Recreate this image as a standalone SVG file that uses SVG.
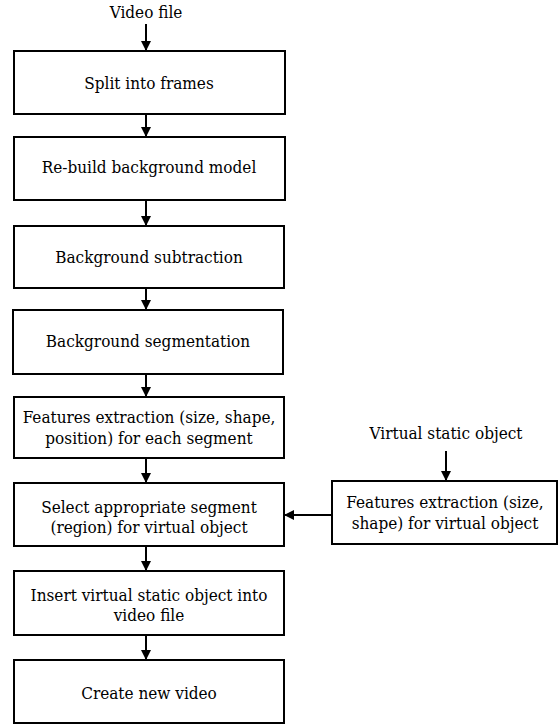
<svg xmlns="http://www.w3.org/2000/svg" width="558" height="725" viewBox="0 0 558 725">
  <style>
    .box { fill: #fff; stroke: #000; stroke-width: 2; }
    .lbl { font-family: 'DejaVu Serif Condensed', 'DejaVu Serif', serif; font-stretch: condensed; font-size: 17px; fill: #000; text-anchor: middle; }
    .edge { stroke: #000; stroke-width: 2; fill: none; marker-end: url(#arrow); }
  </style>
  <defs>
    <marker id="arrow" viewBox="0 0 10 10" refX="10" refY="5" markerWidth="10" markerHeight="10" markerUnits="userSpaceOnUse" orient="auto">
      <path d="M0,0 L10,5 L0,10 Z" fill="#000"/>
    </marker>
  </defs>
  <rect width="558" height="725" fill="#fff"/>

  <g id="connectors">
    <line class="edge" x1="146" y1="24" x2="146" y2="51"/>
    <line class="edge" x1="146" y1="114" x2="146" y2="137"/>
    <line class="edge" x1="146" y1="200" x2="146" y2="226"/>
    <line class="edge" x1="146" y1="288" x2="146" y2="310"/>
    <line class="edge" x1="146" y1="374" x2="146" y2="397"/>
    <line class="edge" x1="146" y1="458" x2="146" y2="483"/>
    <line class="edge" x1="146" y1="546" x2="146" y2="571"/>
    <line class="edge" x1="146" y1="635" x2="146" y2="660"/>
    <line class="edge" x1="446" y1="451" x2="446" y2="481"/>
    <line class="edge" x1="332" y1="515" x2="284" y2="515"/>
  </g>

  <g id="video-file">
    <text class="lbl" x="146" y="18">Video file</text>
  </g>
  <g id="split-frames">
    <rect class="box" x="14" y="51" width="271" height="63"/>
    <text class="lbl" x="149" y="89">Split into frames</text>
  </g>
  <g id="rebuild-model">
    <rect class="box" x="14" y="137" width="271" height="63"/>
    <text class="lbl" x="149" y="173">Re-build background model</text>
  </g>
  <g id="bg-subtraction">
    <rect class="box" x="14" y="226" width="270" height="62"/>
    <text class="lbl" x="149" y="263">Background subtraction</text>
  </g>
  <g id="bg-segmentation">
    <rect class="box" x="13" y="310" width="270" height="64"/>
    <text class="lbl" x="148" y="347">Background segmentation</text>
  </g>
  <g id="features-segment">
    <rect class="box" x="14" y="397" width="270" height="61"/>
    <text class="lbl" x="149" y="423">Features extraction (size, shape,</text>
    <text class="lbl" x="149" y="444">position) for each segment</text>
  </g>
  <g id="select-segment">
    <rect class="box" x="14" y="483" width="270" height="63"/>
    <text class="lbl" x="149" y="513">Select appropriate segment</text>
    <text class="lbl" x="149" y="533">(region) for virtual object</text>
  </g>
  <g id="insert-object">
    <rect class="box" x="14" y="571" width="270" height="64"/>
    <text class="lbl" x="149" y="601">Insert virtual static object into</text>
    <text class="lbl" x="149" y="621">video file</text>
  </g>
  <g id="create-video">
    <rect class="box" x="14" y="660" width="270" height="63"/>
    <text class="lbl" x="149" y="699">Create new video</text>
  </g>
  <g id="virtual-object">
    <text class="lbl" x="446" y="439">Virtual static object</text>
  </g>
  <g id="features-object">
    <rect class="box" x="332" y="481" width="225" height="63"/>
    <text class="lbl" x="445" y="508">Features extraction (size,</text>
    <text class="lbl" x="445" y="529">shape) for virtual object</text>
  </g>
</svg>
